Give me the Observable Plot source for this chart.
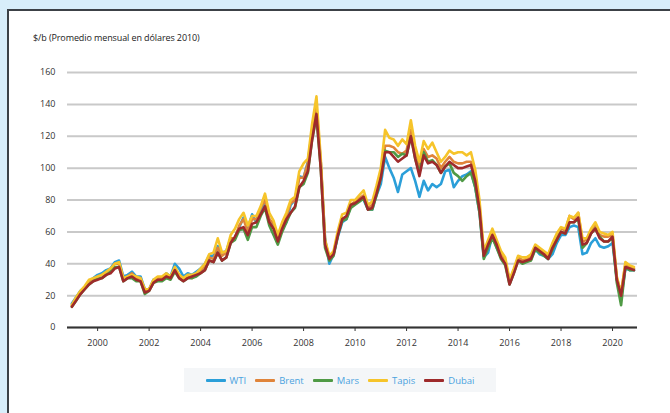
<!DOCTYPE html>
<html><head><meta charset="utf-8">
<script src="https://cdn.jsdelivr.net/npm/d3@7"></script>
<script src="https://cdn.jsdelivr.net/npm/@observablehq/plot@0.6"></script>
<style>
html,body{margin:0;padding:0;background:#d8eefa;width:670px;height:413px;overflow:hidden;font-family:"Open Sans",sans-serif;}
#panel{position:absolute;left:7px;top:9px;width:680px;height:420px;background:#fff;border-left:2px solid #3c4146;border-top:2px solid #3c4146;}
#title{position:absolute;left:33px;top:31px;font-size:9px;color:#222;letter-spacing:-0.1px;}
#chart{position:absolute;left:0;top:0;}
#legend{position:absolute;left:184px;top:368px;width:312px;height:24px;background:#f4f6f8;display:flex;align-items:center;justify-content:center;gap:9px;font-size:9.5px;color:#4aa3df;}
.item{display:flex;align-items:center;gap:4px;}
.sw{width:20px;height:3px;border-radius:1px;}
</style></head>
<body>
<div id="panel"></div>
<div id="title">$/b (Promedio mensual en dólares 2010)</div>
<div id="chart"></div>
<div id="legend"></div>
<script>
// Sampling: every two months (Jan, Mar, May, Jul, Sep, Nov), 1999–2020
const years = d3.range(1999, 2021);
const months = [1, 3, 5, 7, 9, 11];

const seriesNames = ["WTI", "Brent", "Mars", "Tapis", "Dubai"];
const seriesColors = ["#2b9fd9", "#e0843a", "#4f9a45", "#f6c42a", "#9e2a2b"];

const WTI = [
  15,19,23,25,29,31,  33,34,36,37,41,42,  32,33,35,32,32,24,  24,30,31,31,34,32,
  40,37,32,34,33,35,  37,40,45,45,51,47,  48,56,56,63,69,62,  71,66,73,79,68,64,
  55,62,66,77,80,95,  94,104,124,136,104,56,  40,46,57,66,68,76,  78,81,80,74,74,83,
  90,107,100,94,85,96,  98,100,92,82,92,86,  90,88,90,98,99,88,  92,95,96,98,88,72,
  44,47,58,50,44,41,  29,36,44,42,42,43,  49,46,45,43,46,53,  58,58,63,64,63,46,
  47,53,56,51,50,51,  53,30,18,37,36,36
];
const Brent = [
  14,18,22,25,28,30,  32,33,34,36,40,40,  31,32,34,31,31,23,  24,29,31,31,33,31,
  37,33,30,32,31,33,  36,38,44,43,50,45,  47,56,56,64,68,60,  68,68,75,80,68,65,
  56,64,70,78,80,94,  94,103,124,138,104,54,  44,47,59,68,69,77,  79,81,83,75,77,85,
  97,114,114,113,110,109,  111,124,110,100,112,107,  108,106,100,104,107,104,  103,103,104,104,95,76,
  46,53,60,53,46,42,  29,36,44,42,43,44,  51,49,47,45,52,58,  62,61,70,68,72,54,
  55,61,64,58,57,57,  58,31,22,40,38,37
];
const Mars = [
  13,17,21,24,27,29,  31,31,33,35,38,38,  29,31,31,29,29,21,  23,28,29,29,31,30,
  35,31,29,31,31,32,  34,36,42,41,47,42,  44,53,55,61,62,55,  63,63,70,75,64,58,
  52,60,66,72,75,88,  90,97,118,132,100,50,  42,45,58,67,68,75,  77,79,81,74,74,83,
  94,111,110,110,107,109,  108,120,106,97,110,104,  105,102,97,101,103,97,  95,92,95,97,88,72,
  43,50,56,50,43,39,  27,34,42,40,41,42,  49,47,45,43,49,55,  60,59,66,66,68,50,
  53,59,62,57,54,54,  56,28,14,38,36,36
];
const Tapis = [
  14,19,23,26,30,31,  32,33,35,37,40,41,  31,32,33,32,31,24,  24,30,32,32,34,32,
  38,33,31,33,33,34,  37,40,46,47,56,47,  48,58,62,68,72,64,  70,70,76,84,72,67,
  58,66,72,80,82,98,  103,106,128,145,106,55,  45,48,61,71,72,80,  80,83,86,77,79,89,
  100,124,119,118,114,118,  115,130,114,104,117,112,  116,110,104,107,111,109,  110,110,108,110,99,80,
  48,55,62,55,48,44,  30,37,45,44,44,46,  52,50,48,46,53,59,  63,62,70,69,72,56,
  56,62,66,60,59,58,  60,32,21,41,39,38
];
const Dubai = [
  13,17,21,24,27,29,  30,31,33,34,37,38,  29,31,32,30,29,22,  23,28,30,30,32,31,
  36,31,29,31,32,33,  34,36,42,41,47,42,  44,53,57,62,63,58,  65,66,71,76,66,62,
  54,62,68,72,76,88,  92,98,118,134,100,52,  43,46,58,68,70,77,  78,80,82,74,75,84,
  94,110,110,107,104,106,  108,120,106,95,108,103,  104,102,97,101,104,102,  100,100,101,102,92,74,
  45,52,58,52,44,40,  27,34,42,41,42,43,  50,48,46,43,50,55,  60,59,66,66,69,52,
  53,59,62,56,54,54,  57,30,20,38,37,36
];
const seriesValues = [WTI, Brent, Mars, Tapis, Dubai];

const xTicks = [2000, 2002, 2004, 2006, 2008, 2010, 2012, 2014, 2016, 2018, 2020];
const yTicks = [0, 20, 40, 60, 80, 100, 120, 140, 160];

const times = [];
for (const y of years) for (const m of months) times.push(y + (m - 1) / 12);

const lineMarks = seriesNames.map((name, i) =>
  Plot.line(times.map((t, k) => ({t, v: seriesValues[i][k]})), {
    x: "t", y: "v", stroke: seriesColors[i], strokeWidth: 2.6,
    strokeLinejoin: "round", strokeLinecap: "round"
  })
);

const chart = Plot.plot({
  width: 670, height: 360,
  marginLeft: 67, marginRight: 33, marginTop: 72, marginBottom: 33,
  style: {background: "transparent", fontFamily: "Open Sans, sans-serif", fontSize: "9px", color: "#333"},
  x: {domain: [1998.83, 2020.97]},
  y: {domain: [0, 160]},
  marks: [
    Plot.gridY(yTicks, {stroke: "#c9c9c9", strokeOpacity: 1, strokeWidth: 2}),
    Plot.axisY(yTicks, {tickSize: 0, tickPadding: 12, label: null, fill: "#333"}),
    Plot.axisX(xTicks, {tickSize: 4, tickPadding: 8, label: null, tickFormat: d => String(d), fill: "#333", stroke: "#333"}),
    ...lineMarks,
    Plot.ruleY([0], {stroke: "#333", strokeWidth: 2})
  ]
});
document.getElementById("chart").appendChild(chart);

const legend = document.getElementById("legend");
seriesNames.forEach((name, i) => {
  const it = document.createElement("div");
  it.className = "item";
  it.innerHTML = `<span class="sw" style="background:${seriesColors[i]}"></span><span>${name}</span>`;
  legend.appendChild(it);
});
</script>
</body></html>
